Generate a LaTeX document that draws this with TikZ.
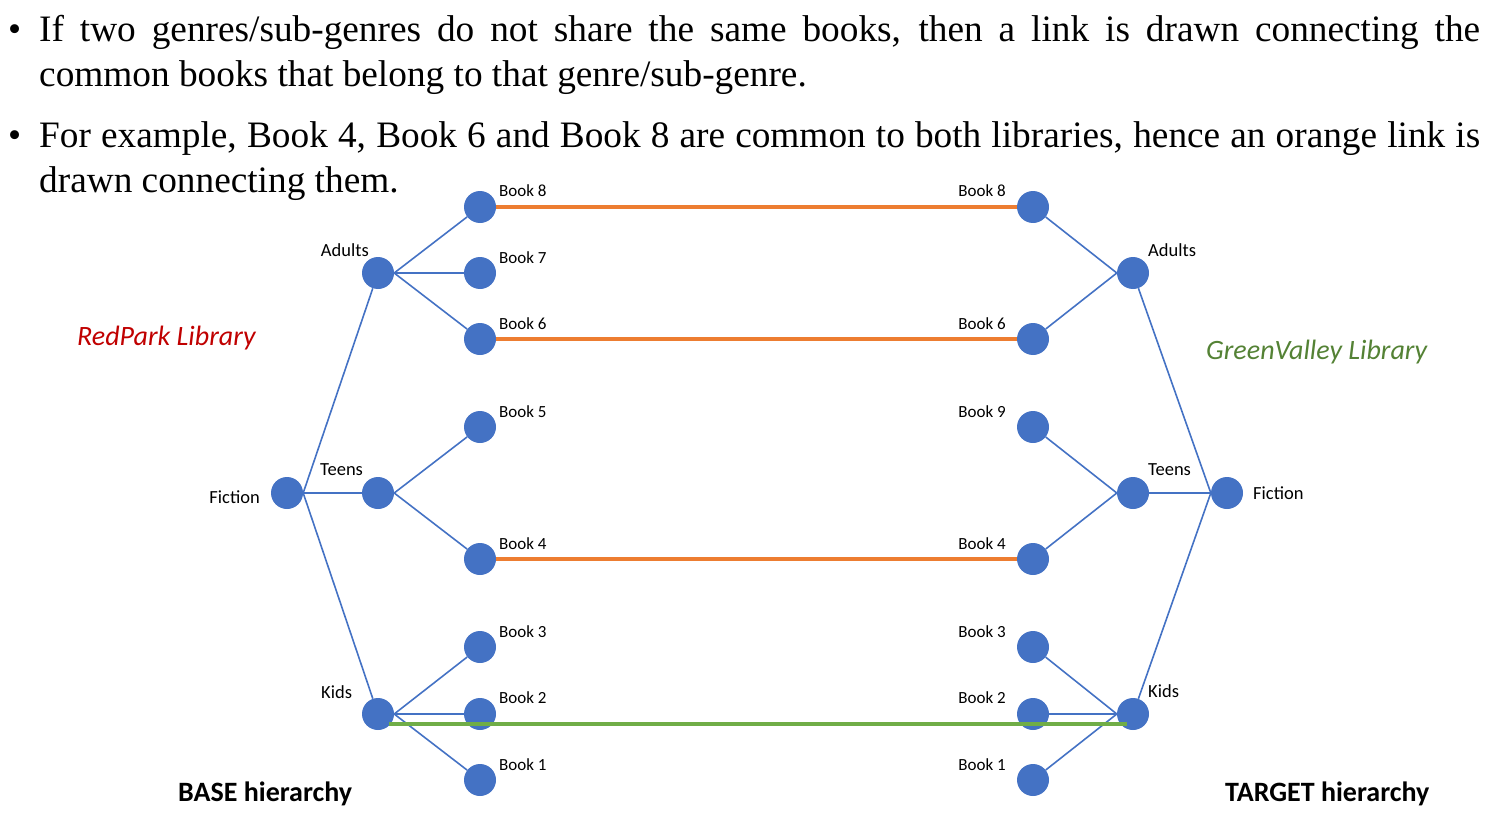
\documentclass[tikz,border=0pt]{standalone}
\usepackage{fontspec}
\setmainfont{Liberation Serif}
\newfontfamily\calibri{Carlito}
\usetikzlibrary{calc}
\definecolor{nodeblue}{HTML}{4472C4}
\definecolor{linkorange}{HTML}{ED7D31}
\definecolor{linkgreen}{HTML}{70AD47}
\definecolor{libred}{HTML}{C00000}
\definecolor{libgreen}{HTML}{548235}
\begin{document}
\begin{tikzpicture}[x=1pt,y=-1pt,
  dot/.style={circle,fill=nodeblue,minimum size=32pt,inner sep=0pt},
  tree/.style={nodeblue,line width=1.6pt},
  olink/.style={linkorange,line width=3.5pt},
  glink/.style={linkgreen,line width=3.5pt},
  lbl/.style={font=\calibri\fontsize{17}{20}\selectfont,inner sep=0pt},
  glbl/.style={font=\calibri\fontsize{18.5}{22}\selectfont,inner sep=0pt},
  title/.style={font=\calibri\bfseries\fontsize{28}{32}\selectfont,inner sep=0pt,anchor=base west},
  lib/.style={font=\calibri\itshape\fontsize{28}{32}\selectfont,inner sep=0pt,anchor=base west},
  body/.style={font=\fontsize{37.3}{45}\selectfont,inner sep=0pt,anchor=base west,text width=1441pt,align=justify},
]
\useasboundingbox (0,0) rectangle (1490,832);

% body text
\node[font=\fontsize{37.3}{45}\selectfont,inner sep=0pt,anchor=base west] (bul1) at (8,42) {\textbullet};
\node[body] (para1) at (39,42) {If two genres/sub-genres do not share the same books, then a link is drawn connecting the\linebreak common books that belong to that genre/sub-genre.};
\node[font=\fontsize{37.3}{45}\selectfont,inner sep=0pt,anchor=base west] (bul2) at (8,147) {\textbullet};
\node[body] (para2) at (39,147) {For example, Book 4, Book 6 and Book 8 are common to both libraries, hence an orange link is\linebreak drawn connecting them.};

% left tree nodes
\node[dot] (LF) at (287,493) {};
\node[dot] (LA) at (378,273) {};
\node[dot] (LT) at (378,493) {};
\node[dot] (LK) at (378,714) {};
\node[dot] (LB8) at (480,207) {};
\node[dot] (LB7) at (480,273) {};
\node[dot] (LB6) at (480,339) {};
\node[dot] (LB5) at (480,427) {};
\node[dot] (LB4) at (480,559) {};
\node[dot] (LB3) at (480,647) {};
\node[dot] (LB2) at (480,714) {};
\node[dot] (LB1) at (480,780) {};

% right tree nodes
\node[dot] (RF) at (1227,493) {};
\node[dot] (RA) at (1133,273) {};
\node[dot] (RT) at (1133,493) {};
\node[dot] (RK) at (1133,714) {};
\node[dot] (RB8) at (1033,207) {};
\node[dot] (RB6) at (1033,339) {};
\node[dot] (RB9) at (1033,427) {};
\node[dot] (RB4) at (1033,559) {};
\node[dot] (RB3) at (1033,647) {};
\node[dot] (RB2) at (1033,714) {};
\node[dot] (RB1) at (1033,780) {};

% left edges
\draw[tree] (LF.east) -- (LA);
\draw[tree] (LF.east) -- (LT);
\draw[tree] (LF.east) -- (LK);
\draw[tree] (LA.east) -- (LB8);
\draw[tree] (LA.east) -- (LB7);
\draw[tree] (LA.east) -- (LB6);
\draw[tree] (LT.east) -- (LB5);
\draw[tree] (LT.east) -- (LB4);
\draw[tree] (LK.east) -- (LB3);
\draw[tree] (LK.east) -- (LB2);
\draw[tree] (LK.east) -- (LB1);

% right edges
\draw[tree] (RB8) -- (RA.west);
\draw[tree] (RB6) -- (RA.west);
\draw[tree] (RB9) -- (RT.west);
\draw[tree] (RB4) -- (RT.west);
\draw[tree] (RB3) -- (RK.west);
\draw[tree] (RB2) -- (RK.west);
\draw[tree] (RB1) -- (RK.west);
\draw[tree] (RA) -- (RF.west);
\draw[tree] (RT.east) -- (RF.west);
\draw[tree] (RK) -- (RF.west);

% links
\draw[olink] (LB8.east) -- (RB8.west);
\draw[olink] (LB6.east) -- (RB6.west);
\draw[olink] (LB4.east) -- (RB4.west);
\coordinate (g1) at ($(LK)+(11,10)$);
\coordinate (g2) at ($(RK)+(-6,10)$);
\draw[glink] (g1) -- (g2);

% left labels
\node[glbl,anchor=east] (tLF) at (260,497) {Fiction};
\node[glbl,anchor=east] (tLA) at (369,250) {Adults};
\node[glbl,anchor=west] (tLT) at (320,470) {Teens};
\node[glbl,anchor=west] (tLK) at (321,692) {Kids};
\node[lbl,anchor=west] (tLB8) at (499,191) {Book 8};
\node[lbl,anchor=west] (tLB7) at (499,258) {Book 7};
\node[lbl,anchor=west] (tLB6) at (499,324) {Book 6};
\node[lbl,anchor=west] (tLB5) at (499,412) {Book 5};
\node[lbl,anchor=west] (tLB4) at (499,544) {Book 4};
\node[lbl,anchor=west] (tLB3) at (499,632) {Book 3};
\node[lbl,anchor=west] (tLB2) at (499,698) {Book 2};
\node[lbl,anchor=west] (tLB1) at (499,765) {Book 1};

% right labels
\node[glbl,anchor=west] (tRF) at (1253,493) {Fiction};
\node[glbl,anchor=west] (tRA) at (1148,250) {Adults};
\node[glbl,anchor=west] (tRT) at (1148,470) {Teens};
\node[glbl,anchor=west] (tRK) at (1148,691) {Kids};
\node[lbl,anchor=east] (tRB8) at (1006,191) {Book 8};
\node[lbl,anchor=east] (tRB6) at (1006,324) {Book 6};
\node[lbl,anchor=east] (tRB9) at (1006,412) {Book 9};
\node[lbl,anchor=east] (tRB4) at (1006,544) {Book 4};
\node[lbl,anchor=east] (tRB3) at (1006,632) {Book 3};
\node[lbl,anchor=east] (tRB2) at (1006,698) {Book 2};
\node[lbl,anchor=east] (tRB1) at (1006,765) {Book 1};

% library names and titles
\node[lib,text=libred] (libL) at (77,345) {RedPark Library};
\node[lib,text=libgreen] (libR) at (1206,359) {GreenValley Library};
\node[title] (baseT) at (178,801) {BASE hierarchy};
\node[title] (targT) at (1225,801) {TARGET hierarchy};
\end{tikzpicture}
\end{document}
